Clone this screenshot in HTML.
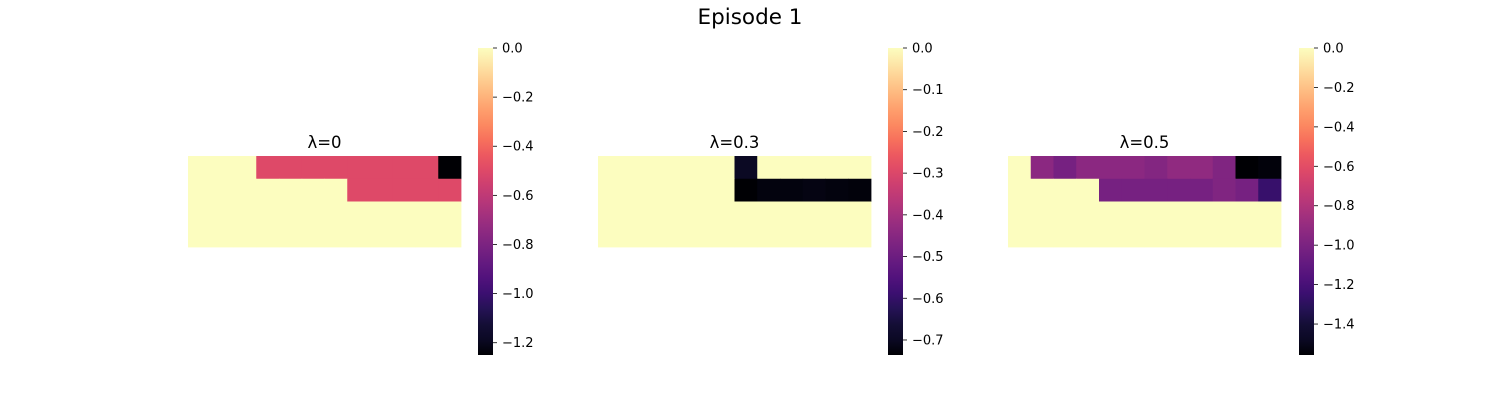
<!DOCTYPE html>
<html><head><meta charset="utf-8"><style>
body{margin:0;background:#fff;width:1500px;height:400px;overflow:hidden;font-family:"DejaVu Sans","Liberation Sans",sans-serif}
</style></head><body>
<svg id="chart" width="1500" height="400" xmlns="http://www.w3.org/2000/svg" font-family="DejaVu Sans, Liberation Sans, sans-serif">
<text x="750" y="24" text-anchor="middle" font-size="21.5">Episode 1</text>
</svg>
<script>
const titles = ["λ=0", "λ=0.3", "λ=0.5"];
const grid0 = [
 [0,0,0,-0.5,-0.5,-0.5,-0.5,-0.5,-0.5,-0.5,-0.5,-1.25],
 [0,0,0,0,0,0,0,-0.5,-0.5,-0.5,-0.5,-0.5],
 [0,0,0,0,0,0,0,0,0,0,0,0],
 [0,0,0,0,0,0,0,0,0,0,0,0]];
const grid1 = [
 [0,0,0,0,0,0,-0.70,0,0,0,0,0],
 [0,0,0,0,0,0,-0.736,-0.725,-0.725,-0.72,-0.725,-0.728],
 [0,0,0,0,0,0,0,0,0,0,0,0],
 [0,0,0,0,0,0,0,0,0,0,0,0]];
const grid2 = [
 [0,-0.94,-1.02,-0.94,-0.94,-0.94,-0.97,-0.92,-0.92,-0.98,-1.557,-1.54],
 [0,0,0,0,-1.02,-1.02,-1.02,-1.02,-1.02,-0.98,-1.02,-1.26],
 [0,0,0,0,0,0,0,0,0,0,0,0],
 [0,0,0,0,0,0,0,0,0,0,0,0]];
const ticks0 = [0,-0.2,-0.4,-0.6,-0.8,-1.0,-1.2];
const ticks1 = [0,-0.1,-0.2,-0.3,-0.4,-0.5,-0.6,-0.7];
const ticks2 = [0,-0.2,-0.4,-0.6,-0.8,-1.0,-1.2,-1.4];

const grids=[grid0,grid1,grid2], tickSets=[ticks0,ticks1,ticks2];
const magma=[[0,"#000004"],[0.05,"#0b0924"],[0.1,"#140e36"],[0.15,"#251255"],[0.2,"#3b0f70"],[0.25,"#51127c"],[0.3,"#641a80"],[0.35,"#782281"],[0.4,"#8c2981"],[0.45,"#a1307e"],[0.5,"#b73779"],[0.55,"#cb3e71"],[0.6,"#de4968"],[0.65,"#ec5860"],[0.7,"#f7705c"],[0.75,"#fc8961"],[0.8,"#fe9f6d"],[0.85,"#feb77e"],[0.9,"#fecf92"],[0.95,"#fde7a9"],[1,"#fcfdbf"]];
function hex(h){return [1,3,5].map(i=>parseInt(h.substr(i,2),16));}
function cmap(t){t=Math.max(0,Math.min(1,t));for(let i=1;i<magma.length;i++){if(t<=magma[i][0]){const a=magma[i-1],b=magma[i];const f=(t-a[0])/(b[0]-a[0]);const A=hex(a[1]),B=hex(b[1]);return "rgb("+A.map((v,k)=>Math.round(v+(B[k]-v)*f)).join(",")+")";}}return magma[magma.length-1][1];}
const svg=document.getElementById('chart');const NS="http://www.w3.org/2000/svg";
function mk(tag,attrs,parent){const e=document.createElementNS(NS,tag);for(const k in attrs)e.setAttribute(k,attrs[k]);(parent||svg).appendChild(e);return e;}
const panelX=[188,598,1008], cbX=[478,888,1299];
const gx=273/12, gy=91/4, gTop=156, cbTop=48, cbBot=355;
const defs=mk('defs',{});
const lg=mk('linearGradient',{id:'mg',x1:0,y1:1,x2:0,y2:0},defs);
magma.forEach(s=>mk('stop',{offset:s[0],'stop-color':s[1]},lg));
grids.forEach((g,p)=>{
  let vmin=0;g.forEach(r=>r.forEach(v=>{if(v<vmin)vmin=v;}));
  const grp=mk('g',{});
  
  
  const t=mk('text',{x:panelX[p]+136.5,y:148,'text-anchor':'middle','font-size':16.5},grp);
  t.textContent=titles[p];
  
  
  g.forEach((row,r)=>row.forEach((v,c)=>{
    const cell=mk('rect',{x:panelX[p]+c*gx,y:gTop+r*gy,width:gx+0.4,height:gy+0.4,fill:cmap((v-vmin)/(0-vmin))},grp);
    
    
  }));
  const cb=mk('rect',{x:cbX[p],y:cbTop,width:15,height:cbBot-cbTop,fill:'url(#mg)'},grp);
  
  
  const yOf=v=>cbTop+(0-v)/(0-vmin)*(cbBot-cbTop);
  tickSets[p].forEach(v=>{
    const y=yOf(v);
    mk('line',{x1:cbX[p]+15,x2:cbX[p]+19,y1:y,y2:y,stroke:'#000','stroke-width':0.8},grp);
    const tx=mk('text',{x:cbX[p]+24,y:y+4.5,'font-size':13},grp);
    tx.textContent=(v===0?"0.0":"\u2212"+Math.abs(v).toFixed(1));
    
    
  });
});
</script>
</body></html>
